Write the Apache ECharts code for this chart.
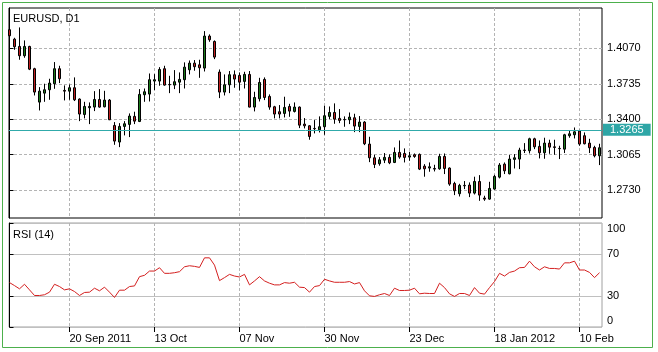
<!DOCTYPE html>
<html>
<head>
<meta charset="utf-8">
<title>EURUSD, D1</title>
<script src="https://cdn.jsdelivr.net/npm/echarts@6/dist/echarts.min.js"></script>
<style>
  html, body { margin: 0; padding: 0; background: #fff; }
  #chart { width: 658px; height: 352px; }
</style>
</head>
<body>
<div id="chart"></div>
<script>
// time axis: bar index of each labelled day, and its text
var tickIdx = [12, 29, 46, 63, 80, 97, 114];
var tickLabels = ['20 Sep 2011', '13 Oct', '07 Nov', '30 Nov', '23 Dec', '18 Jan 2012', '10 Feb'];

var priceTicks = [1.2730, 1.3065, 1.3400, 1.3735, 1.4070];
var bidPrice = 1.3265;
var rsiTicks = [0, 30, 70, 100];

// daily bars: open, close, low, high
var candles = [
  [1.4247, 1.4190, 1.4182, 1.4256], [1.4158, 1.4086, 1.4057, 1.4171], [1.4089, 1.4001, 1.3963, 1.4269],
  [1.4001, 1.4089, 1.3982, 1.4146], [1.4089, 1.3874, 1.3865, 1.4095], [1.3878, 1.3657, 1.3625, 1.3887],
  [1.3562, 1.3666, 1.3483, 1.3704], [1.3647, 1.3679, 1.3565, 1.3736], [1.3679, 1.3742, 1.3584, 1.3783],
  [1.3736, 1.3878, 1.3688, 1.3941], [1.3878, 1.3783, 1.3742, 1.3906], [1.3673, 1.3666, 1.3578, 1.3720],
  [1.3666, 1.3698, 1.3584, 1.3729], [1.3698, 1.3584, 1.3572, 1.3796], [1.3591, 1.3449, 1.3382, 1.3597],
  [1.3445, 1.3521, 1.3408, 1.3565], [1.3509, 1.3521, 1.3354, 1.3559], [1.3515, 1.3587, 1.3477, 1.3666],
  [1.3587, 1.3515, 1.3509, 1.3685], [1.3518, 1.3581, 1.3512, 1.3669], [1.3581, 1.3395, 1.3392, 1.3591],
  [1.3341, 1.3193, 1.3158, 1.3373], [1.3184, 1.3332, 1.3136, 1.3363], [1.3332, 1.3357, 1.3247, 1.3382],
  [1.3351, 1.3430, 1.3231, 1.3455], [1.3427, 1.3382, 1.3354, 1.3471], [1.3379, 1.3635, 1.3373, 1.3685],
  [1.3632, 1.3660, 1.3565, 1.3691], [1.3638, 1.3774, 1.3568, 1.3833], [1.3761, 1.3774, 1.3676, 1.3827],
  [1.3761, 1.3871, 1.3717, 1.3893], [1.3878, 1.3723, 1.3717, 1.3906], [1.3729, 1.3726, 1.3647, 1.3811],
  [1.3723, 1.3755, 1.3685, 1.3865], [1.3751, 1.3777, 1.3647, 1.3843], [1.3774, 1.3893, 1.3691, 1.3938],
  [1.3868, 1.3931, 1.3824, 1.3956], [1.3931, 1.3897, 1.3859, 1.3960], [1.3915, 1.3887, 1.3792, 1.3963],
  [1.3884, 1.4187, 1.3852, 1.4234], [1.4187, 1.4152, 1.4133, 1.4203], [1.4136, 1.3988, 1.3969, 1.4146],
  [1.3846, 1.3657, 1.3600, 1.3871], [1.3657, 1.3726, 1.3625, 1.3824], [1.3726, 1.3821, 1.3647, 1.3856],
  [1.3821, 1.3780, 1.3698, 1.3862], [1.3815, 1.3751, 1.3673, 1.3843], [1.3758, 1.3824, 1.3691, 1.3849],
  [1.3824, 1.3515, 1.3512, 1.3856], [1.3515, 1.3606, 1.3474, 1.3660], [1.3594, 1.3748, 1.3568, 1.3792],
  [1.3777, 1.3606, 1.3581, 1.3796], [1.3616, 1.3515, 1.3490, 1.3635], [1.3518, 1.3449, 1.3408, 1.3527],
  [1.3471, 1.3449, 1.3408, 1.3534], [1.3455, 1.3512, 1.3417, 1.3613], [1.3521, 1.3477, 1.3423, 1.3546],
  [1.3474, 1.3515, 1.3464, 1.3559], [1.3515, 1.3344, 1.3316, 1.3521], [1.3354, 1.3338, 1.3313, 1.3411],
  [1.3338, 1.3237, 1.3206, 1.3344], [1.3313, 1.3310, 1.3266, 1.3392], [1.3300, 1.3329, 1.3275, 1.3427],
  [1.3329, 1.3433, 1.3253, 1.3527], [1.3427, 1.3464, 1.3401, 1.3521], [1.3464, 1.3401, 1.3357, 1.3550],
  [1.3408, 1.3389, 1.3363, 1.3496], [1.3398, 1.3395, 1.3329, 1.3427], [1.3395, 1.3420, 1.3354, 1.3464],
  [1.3414, 1.3335, 1.3278, 1.3452], [1.3332, 1.3373, 1.3278, 1.3430], [1.3373, 1.3168, 1.3155, 1.3382],
  [1.3165, 1.3035, 1.2994, 1.3234], [1.3035, 1.2972, 1.2938, 1.3064], [1.2979, 1.3016, 1.2960, 1.3042],
  [1.3013, 1.3039, 1.2985, 1.3080], [1.3039, 1.2988, 1.2975, 1.3067], [1.2991, 1.3086, 1.2985, 1.3133],
  [1.3086, 1.3042, 1.3026, 1.3199], [1.3076, 1.3039, 1.2991, 1.3124], [1.3042, 1.3054, 1.3007, 1.3092],
  [1.3064, 1.3048, 1.3035, 1.3076], [1.3067, 1.2928, 1.2919, 1.3076], [1.2956, 1.2931, 1.2856, 1.2975],
  [1.2938, 1.2950, 1.2903, 1.2991], [1.2934, 1.2928, 1.2906, 1.2969], [1.2931, 1.3048, 1.2922, 1.3073],
  [1.3048, 1.2934, 1.2881, 1.3076], [1.2938, 1.2786, 1.2770, 1.2944], [1.2792, 1.2723, 1.2682, 1.2808],
  [1.2695, 1.2774, 1.2669, 1.2789], [1.2774, 1.2770, 1.2739, 1.2815], [1.2777, 1.2701, 1.2663, 1.2802],
  [1.2701, 1.2811, 1.2688, 1.2856], [1.2811, 1.2682, 1.2628, 1.2871], [1.2654, 1.2644, 1.2628, 1.2676],
  [1.2644, 1.2745, 1.2638, 1.2808], [1.2739, 1.2859, 1.2733, 1.2874], [1.2852, 1.2966, 1.2840, 1.2985],
  [1.2975, 1.2912, 1.2881, 1.2991], [1.2884, 1.3023, 1.2878, 1.3061], [1.3020, 1.3035, 1.2934, 1.3070],
  [1.3023, 1.3108, 1.2928, 1.3130], [1.3108, 1.3105, 1.3080, 1.3174], [1.3102, 1.3215, 1.3076, 1.3225],
  [1.3215, 1.3139, 1.3117, 1.3225], [1.3143, 1.3083, 1.3029, 1.3199], [1.3083, 1.3174, 1.3026, 1.3225],
  [1.3174, 1.3136, 1.3073, 1.3206], [1.3139, 1.3133, 1.3064, 1.3206], [1.3124, 1.3121, 1.3023, 1.3149],
  [1.3117, 1.3253, 1.3080, 1.3262], [1.3244, 1.3262, 1.3225, 1.3294], [1.3253, 1.3281, 1.3218, 1.3322],
  [1.3288, 1.3165, 1.3149, 1.3300], [1.3244, 1.3168, 1.3162, 1.3275], [1.3174, 1.3130, 1.3080, 1.3215],
  [1.3133, 1.3054, 1.3039, 1.3149], [1.3054, 1.3130, 1.2966, 1.3168]
];

// RSI(14), one value per bar
var rsi = [
  42.7, 39.8, 36.7, 41.1, 35.7, 30.3, 30.3, 31.0, 33.5, 41.1,
  38.9, 35.7, 36.7, 34.1, 30.3, 33.2, 33.5, 37.3, 34.8, 38.3,
  33.5, 28.4, 35.4, 35.4, 38.9, 39.5, 48.4, 49.7, 53.8, 53.8,
  57.0, 51.6, 51.6, 52.2, 53.2, 57.9, 58.9, 58.3, 57.3, 66.5,
  66.5, 59.5, 44.6, 47.5, 50.6, 49.0, 48.1, 50.6, 40.5, 44.3,
  48.4, 44.3, 42.1, 40.5, 40.5, 42.7, 42.1, 43.0, 38.3, 37.9,
  33.5, 38.9, 39.8, 45.9, 44.3, 43.0, 43.0, 43.0, 43.7, 41.4,
  42.7, 34.8, 30.0, 29.4, 31.0, 32.2, 30.3, 37.3, 35.1, 35.1,
  35.4, 37.3, 31.9, 32.5, 32.2, 32.2, 42.1, 37.9, 31.9, 29.4,
  32.2, 32.2, 30.3, 37.9, 32.5, 31.6, 37.9, 43.7, 51.6, 49.0,
  52.5, 53.8, 57.0, 57.3, 63.3, 57.9, 54.8, 57.9, 56.3, 56.3,
  55.7, 61.7, 61.7, 63.3, 54.8, 54.8, 52.5, 47.5, 52.2
];

var font = '"Liberation Sans", Arial, sans-serif';
var gridGray = '#b4b4b4';

var candleData = candles.map(function(c, i) { return [i, c[0], c[1], c[2], c[3]]; });
var rsiData = rsi.map(function(v, i) { return [i, v]; });

function dateLabel(v) {
	var k = tickIdx.indexOf(Math.round(v));
	return k < 0 ? '' : tickLabels[k];
}

var labelStyle = { color: '#000', fontSize: 11, fontFamily: font };

var myChart = echarts.init(document.getElementById('chart'));
var option = {
	animation: false,
	backgroundColor: '#fff',
	title: [{
		text: 'EURUSD, D1',
		left: 13,
		top: 13,
		padding: 0,
		textStyle: { color: '#000', fontSize: 11, fontWeight: 'normal', fontFamily: font, lineHeight: 12 }
	}, {
		text: 'RSI (14)',
		left: 13,
		top: 229,
		padding: 0,
		textStyle: { color: '#000', fontSize: 11, fontWeight: 'normal', fontFamily: font, lineHeight: 12 }
	}],
	graphic: [{
		type: 'rect',
		silent: true,
		shape: { x: 2.5, y: 2.5, width: 650, height: 345 },
		style: { fill: 'none', stroke: '#4cb04c', lineWidth: 1 }
	}],
	grid: [
		{ left: 9, top: 8, width: 593, height: 210, show: true, borderColor: '#000', borderWidth: 1 },
		{ left: 9, top: 223, width: 593, height: 104, show: true, borderColor: '#a0a0a0', borderWidth: 1 }
	],
	xAxis: [{
		type: 'value',
		gridIndex: 0,
		min: -0.1,
		max: 118.5,
		axisLine: { show: false },
		axisTick: { show: false, customValues: tickIdx },
		axisLabel: { show: false },
		splitLine: { show: true, lineStyle: { color: gridGray, type: [3, 2] } }
	}, {
		type: 'value',
		gridIndex: 1,
		min: -0.1,
		max: 118.5,
		axisLine: { show: false },
		axisTick: { show: true, length: 5, customValues: tickIdx, lineStyle: { color: '#000' } },
		axisLabel: Object.assign({ customValues: tickIdx, formatter: dateLabel, align: 'left', margin: 6 }, labelStyle),
		splitLine: { show: true, lineStyle: { color: gridGray, type: [3, 2] } }
	}],
	yAxis: [{
		type: 'value',
		gridIndex: 0,
		position: 'right',
		min: 1.24653,
		max: 1.44527,
		axisLine: { show: true, lineStyle: { color: '#000' } },
		axisTick: { show: true, length: 4, customValues: priceTicks, lineStyle: { color: '#000' } },
		axisLabel: Object.assign({
			customValues: priceTicks,
			margin: 5,
			formatter: function(v) { return v.toFixed(4); }
		}, labelStyle),
		splitLine: { show: true, lineStyle: { color: gridGray, type: [3, 2] } }
	}, {
		type: 'value',
		gridIndex: 1,
		position: 'right',
		min: 0,
		max: 100,
		axisLine: { show: true, lineStyle: { color: '#000' } },
		axisTick: { show: true, length: 4, customValues: rsiTicks, lineStyle: { color: '#000' } },
		axisLabel: Object.assign({
			customValues: rsiTicks,
			margin: 5,
			formatter: function(v) {
				if (v === 100) return '{top|100}';
				if (v === 0) return '{bot|0}';
				return String(v);
			},
			rich: {
				top: { padding: [12, 0, 0, 0], color: '#000', fontSize: 11, fontFamily: font },
				bot: { padding: [0, 0, 12, 0], color: '#000', fontSize: 11, fontFamily: font }
			}
		}, labelStyle),
		splitLine: { show: true, lineStyle: { color: '#c0c0c0' } }
	}],
	series: [{
		name: 'EURUSD',
		type: 'candlestick',
		xAxisIndex: 0,
		yAxisIndex: 0,
		barWidth: 2,
		data: candleData,
		itemStyle: {
			color: '#1c7a1c',
			color0: '#c02020',
			borderColor: '#000',
			borderColor0: '#000',
			borderWidth: 1
		},
		markLine: {
			silent: true,
			symbol: 'none',
			emphasis: { disabled: true },
			data: [{ yAxis: bidPrice, lineStyle: { color: '#30aaaa', width: 1, type: 'solid', opacity: 1 } }],
			lineStyle: { color: '#30aaaa', width: 1, type: 'solid', opacity: 1 },
			label: {
				show: true,
				position: 'end',
				distance: 1,
				formatter: bidPrice.toFixed(4),
				backgroundColor: '#2ea6a6',
				color: '#fff',
				fontSize: 11,
				fontFamily: font,
				lineHeight: 11,
				padding: [1, 7, 0, 7]
			}
		}
	}, {
		name: 'RSI (14)',
		type: 'line',
		xAxisIndex: 1,
		yAxisIndex: 1,
		data: rsiData,
		showSymbol: false,
		lineStyle: { color: '#d42020', width: 1 }
	}]
};
myChart.setOption(option);
</script>
</body>
</html>
